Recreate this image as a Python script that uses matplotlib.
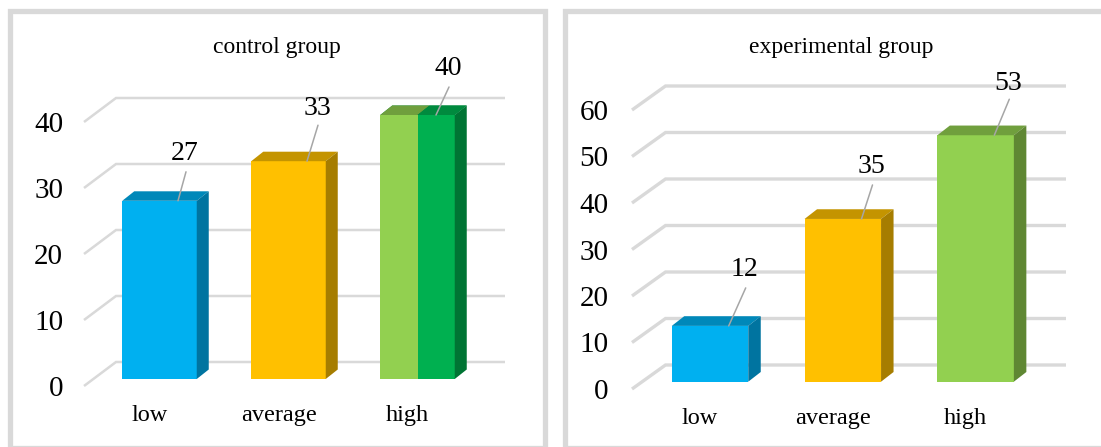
import matplotlib
matplotlib.use("Agg")
import matplotlib.pyplot as plt
from matplotlib.patches import Polygon, Rectangle
from matplotlib.transforms import Affine2D

W = 1101
H = 447

categories = ["low", "average", "high"]
control_values = [27, 33, 40]
experimental_values = [12, 35, 53]
control_ticks = [0, 10, 20, 30, 40]
experimental_ticks = [0, 10, 20, 30, 40, 50, 60]

BLUE = ("#00B0F0", "#0088B9", "#0074A0")
YELLOW = ("#FFC000", "#C49400", "#A67D00")
LIME = ("#92D050", "#709F3D", "#5F8733")
GREEN = ("#00B050", "#008A3E", "#007434")
GRID = "#D9D9D9"

plt.rcParams["font.family"] = ["Liberation Serif", "DejaVu Serif"]

fig = plt.figure(figsize=(W / 100, H / 100), dpi=100, facecolor="white")


def frame(x0, y0, x1, y1):
    fig.add_artist(Rectangle((x0 / W, 1 - y1 / H), (x1 - x0) / W, (y1 - y0) / H,
                             transform=fig.transFigure, fill=False,
                             edgecolor=GRID, linewidth=3.8))


def draw_bar(ax, tr, x, w, v, cols, sx, sy, side=True):
    ax.bar(x, v, w, color=cols[0], linewidth=0, transform=tr, zorder=3, clip_on=False)
    left = x - w / 2
    right = x + w / 2
    ax.add_patch(Polygon([(left, v), (right, v), (right + sx, v + sy), (left + sx, v + sy)],
                         closed=True, facecolor=cols[1], edgecolor="none",
                         transform=tr, zorder=3, clip_on=False))
    if side:
        ax.add_patch(Polygon([(right, 0), (right + sx, sy), (right + sx, v + sy), (right, v)],
                             closed=True, facecolor=cols[2], edgecolor="none",
                             transform=tr, zorder=3, clip_on=False))


def panel(box, xstart, xstep, barw, values, ticks, colors, title, title_xy, grid_lw,
          back, shift, depth, anchor_dx, label_off, leader_off, tickpad):
    left, top, right, bottom = box
    ax = fig.add_axes([left / W, 1 - bottom / H, (right - left) / W, (bottom - top) / H])
    ax.set_xlim((left - xstart) / xstep, (right - xstart) / xstep)
    ax.set_ylim(ticks[0], ticks[-1])
    ax.patch.set_visible(False)
    for s in ax.spines.values():
        s.set_visible(False)

    xs = list(range(len(values)))
    ypx = (bottom - top) / (ticks[-1] - ticks[0])

    # side wall and back wall gridlines
    bx = back[0] / xstep
    by = back[1] / ypx
    for t in ticks:
        ax.plot([ax.get_xlim()[0], ax.get_xlim()[0] + bx, ax.get_xlim()[1]], [t, t + by, t + by],
                color=GRID, linewidth=grid_lw, clip_on=False, zorder=1,
                solid_joinstyle="miter", solid_capstyle="butt")

    # bars sit a little behind the front edge of the floor
    tr = ax.transData + Affine2D().translate(shift[0], shift[1])
    sx = depth[0] / xstep
    sy = depth[1] / ypx
    wd = barw / xstep
    for i in xs:
        draw_bar(ax, tr, xs[i], wd, values[i], colors[i], sx, sy)
    if title == "control group":
        # the high bar is two-tone
        draw_bar(ax, tr, xs[2] - wd / 4, wd / 2, values[2], LIME, sx, sy, side=False)
        ax.add_patch(Polygon([(xs[2], values[2]), (xs[2] + wd / 2, values[2]),
                              (xs[2] + wd / 2 + sx, values[2] + sy), (xs[2] + sx, values[2] + sy)],
                             closed=True, facecolor=GREEN[1], edgecolor="none",
                             transform=tr, zorder=3, clip_on=False))

    for i in xs:
        ax_xy = (xs[i] + (shift[0] + anchor_dx) / xstep, values[i] + shift[1] / ypx)
        ax.annotate("", xy=ax_xy, xytext=leader_off[i], textcoords="offset pixels",
                    annotation_clip=False, zorder=4,
                    arrowprops=dict(arrowstyle="-", color="#A6A6A6", lw=1.1,
                                    shrinkA=0, shrinkB=0))
        ax.annotate(str(values[i]), xy=ax_xy, xytext=label_off[i], textcoords="offset pixels",
                    ha="center", va="center", fontsize=20, color="black",
                    annotation_clip=False, zorder=5)

    ax.set_xticks(xs)
    ax.set_xticklabels(categories, fontsize=17.5)
    ax.set_yticks(ticks)
    ax.set_yticklabels([str(t) for t in ticks], fontsize=21)
    ax.tick_params(axis="x", length=0, pad=14)
    ax.tick_params(axis="y", length=0, pad=tickpad)

    fig.text(title_xy[0] / W, 1 - title_xy[1] / H, title, ha="center", va="center",
             fontsize=17, color="black")


frame(9.5, 10.5, 544.5, 447.5)
frame(564.5, 10.5, 1110, 447.5)

panel((84, 122, 505, 386), 149.5, 129, 74.5, control_values, control_ticks,
      [BLUE, YELLOW, GREEN], "control group", (277, 47), 1.8,
      (32, 24), (10, 7), (12, 9.5), 18.5,
      [(7, 47), (10, 53), (12, 46)], [(8, 29), (11, 36), (13, 28)], 15)

panel((632, 110, 1066, 389), 700, 132.8, 76.5, experimental_values, experimental_ticks,
      [BLUE, YELLOW, LIME], "experimental group", (841, 47), 2.4,
      (33.5, 24), (10, 7.3), (12.5, 9.7), 18.7,
      [(16, 56), (10, 52), (14, 52)], [(17, 38), (11, 34), (15, 36)], 17)

fig.savefig("out.png", dpi=100)
